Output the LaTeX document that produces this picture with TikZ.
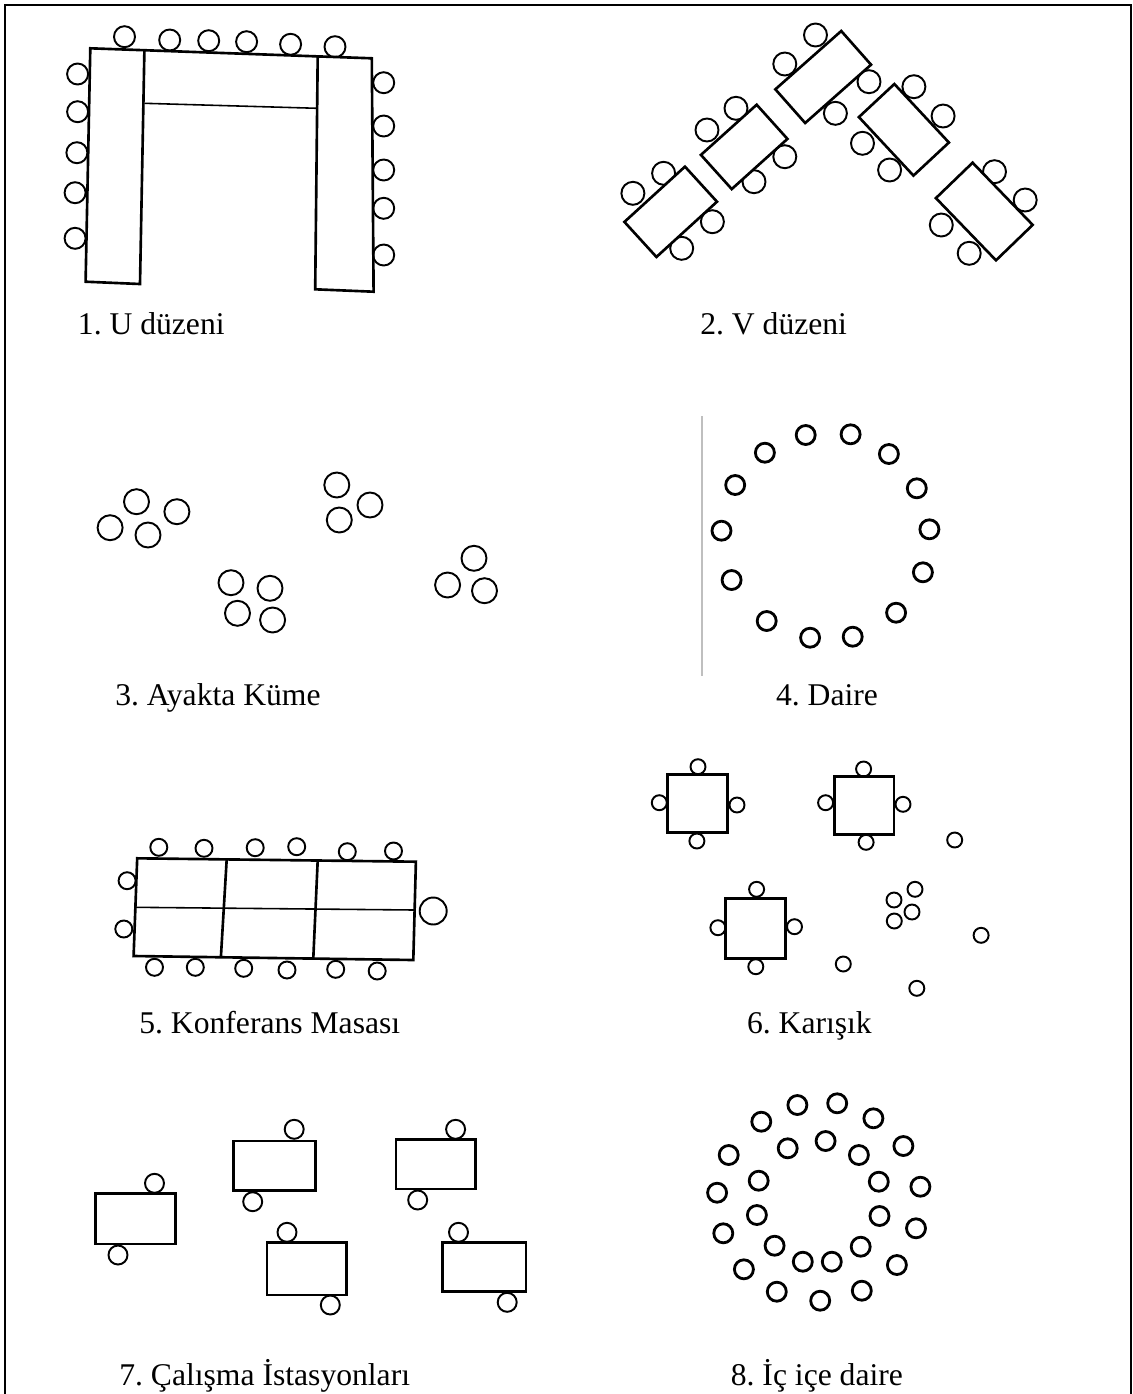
\documentclass[tikz,border=0pt]{standalone}
\usepackage{fontspec}
\setmainfont{Liberation Serif}
\frenchspacing

\begin{document}
\begin{tikzpicture}[x=0.02cm, y=-0.02cm,
    frame/.style={line width=1.5pt},
    desk/.style={line width=1.5pt, line join=miter},
    vdesk/.style={draw, fill=white, line width=1.5pt, inner sep=0pt},
    thinline/.style={line width=0.9pt},
    chair/.style={line width=1.1pt},
    boldchair/.style={line width=1.6pt},
    caption/.style={anchor=base west, inner sep=0pt, font=\fontsize{18}{21}\selectfont}]
  \useasboundingbox (0,0) rectangle (1133,1394);
  \draw[frame] (5,1394) -- (5,5) -- (1131,5) -- (1131,1394);

  % 1. U
  \foreach \x/\y in {124.5/36.7, 169.7/40, 208.7/40.7, 246.6/41.7, 290.6/44.3, 335/46.7,
                     77.6/74, 77.6/111.7, 76.9/152.7, 75.1/192.7, 75.1/238.3,
                     383.7/82.7, 383.7/126, 383.7/170, 383.7/208.3, 383.7/255}
    \draw[chair] (\x,\y) circle (10.5);
  \fill[white] (90.3,48.3) -- (371.8,58.3) -- (373.6,291.7) -- (315.2,289.3) -- (317.7,108.3)
    -- (144.4,103.3) -- (140,284) -- (85.6,281.7) -- cycle;
  \draw[desk] (144.4,50.2) -- (140,284) -- (85.6,281.7) -- (90.3,48.3) -- (371.8,58.3)
    -- (373.6,291.7) -- (315.2,289.3) -- (317.7,56.4);
  \draw[thinline] (144.4,103.3) -- (317.7,108.3);
  \node[caption] (cap1) at (77.6,334) {1. U düzeni};

  % 2. V
  \foreach \x/\y in {663.6/173.3, 632.9/193.3, 712.4/221.7, 681.7/248.3,
                     736/108.3, 707/130, 784.8/156.7, 754/181.7,
                     815.5/35, 784.8/64, 869/81.7, 835.4/113.3,
                     913.9/86.7, 943.1/116, 862.5/143.3, 889.6/170,
                     994.5/171.7, 1025.2/200, 941.3/225, 969.2/253.3}
    \draw[chair] (\x,\y) circle (11.5);
  \node[vdesk, minimum width=1.64cm, minimum height=0.95cm, rotate=42.4] (v1) at (670.7,211.8) {};
  \node[vdesk, minimum width=1.50cm, minimum height=0.92cm, rotate=42] (v2) at (744.2,146.9) {};
  \node[vdesk, minimum width=1.76cm, minimum height=0.90cm, rotate=41.5] (v3) at (823.2,77) {};
  \node[vdesk, minimum width=1.60cm, minimum height=0.97cm, rotate=-47] (v4) at (903.9,129.8) {};
  \node[vdesk, minimum width=1.73cm, minimum height=1.02cm, rotate=-46] (v5) at (984.3,211.5) {};
  \node[caption] (cap2) at (700,334) {2. V düzeni};

  % 3. Ayakta
  \foreach \x/\y in {136.5/501.7, 176.9/511.7, 110.1/527.7, 148/535,
                     336.8/485, 370/505, 339.3/520,
                     231/582.7, 270/588.3, 237.5/613.3, 272.6/620,
                     474/558.3, 447.6/585, 484.5/590.7}
    \draw[chair] (\x,\y) circle (12.5);
  \node[caption] (cap3) at (115,705) {3. Ayakta Küme};

  % 4. Daire
  \draw[black!25, line width=0.6pt] (702,416) -- (702,676);
  \foreach \x/\y in {805.7/435, 850.6/434.3, 764.9/452.7, 888.9/454, 735.2/485, 916.8/488.3,
                     721.5/530.7, 929.4/529.3, 731.6/580, 922.9/572.3, 766.7/621, 896.1/612.7,
                     810.1/637.7, 852.7/636.7}
    \draw[boldchair] (\x,\y) circle (9.5);
  \node[caption] (cap4) at (775.7,705) {4. Daire};

  % 5. Konferans
  \foreach \x/\y in {158.8/847.3, 204/848.3, 255.2/847.7, 296.7/846.7, 347.3/851.7, 393.5/851,
                     127.1/880.7, 123.8/929,
                     154.5/967.3, 195.3/967.3, 243.7/968.3, 287/970, 335.7/969.3, 377.2/971}
    \draw[chair] (\x,\y) circle (8.5);
  \draw[chair] (433.2,911) circle (13.5);
  \draw[desk, fill=white] (137.2,858.3) -- (415.9,861.7) -- (413.3,960) -- (133.6,956) -- cycle;
  \draw[desk] (226.7,859.4) -- (220.9,957.1) (317.7,860.5) -- (313.3,958.3);
  \draw[thinline] (135.4,907.3) -- (414.4,910);
  \node[caption] (cap5) at (139,1033) {5. Konferans Masası};

  % 6. Karisik
  \foreach \x/\y in {698/766.7, 696.9/841, 659.3/802.7, 737/805,
                     863.6/769, 866.1/842.3, 825.6/802.7, 903/804.3,
                     756.6/889.3, 755.8/966.7, 717.9/927.7, 794.5/926.7,
                     954.7/840, 915/889.3, 894/900, 912/912, 894.3/921,
                     981.1/935.3, 843.3/964, 916.8/988.3}
    \draw[chair] (\x,\y) circle (7.5);
  \draw[desk, fill=white] (667.2,774.3) rectangle (727.6,832.7);
  \draw[desk, fill=white] (834.3,776.7) rectangle (894,834.3);
  \draw[desk, fill=white] (725.8,898.3) rectangle (785.5,958.3);
  \node[caption] (cap6) at (746.7,1033) {6. Karışık};

  % 7. Istasyon
  \foreach \x/\y in {154.5/1183.3, 118/1255, 294.2/1129.3, 252.7/1201.7,
                     455.6/1129.3, 417.7/1200, 287/1232.3, 330.3/1305,
                     458.5/1232.3, 507.2/1302.3}
    \draw[chair] (\x,\y) circle (9.5);
  \draw[desk, fill=white] (95.7,1193.3) rectangle (175.8,1244);
  \draw[desk, fill=white] (233.6,1141) rectangle (315.2,1190.7);
  \draw[desk, fill=white] (396,1139.3) rectangle (475.4,1189);
  \draw[desk, fill=white] (267.1,1242.7) rectangle (346.6,1295);
  \draw[desk, fill=white] (442.2,1242.7) rectangle (526,1291.7);
  \node[caption] (cap7) at (119,1385) {7. Çalışma İstasyonları};

  % 8. Ic ice
  \foreach \x/\y in {797.4/1105, 837.2/1103.3, 761.3/1121.7, 873.4/1118.3, 728.7/1155, 903.4/1146,
                     717.1/1192.7, 920.4/1186.7, 723.3/1233.3, 916/1228.3, 743.9/1269.3, 896.9/1265,
                     776.8/1291.7, 820.2/1300.7, 861.8/1290.7,
                     787.7/1148.3, 825.6/1141, 858.9/1155, 758.7/1180.7, 878.8/1181.7,
                     756.9/1215, 879.5/1216, 774.6/1245.7, 860.7/1246.7, 802.8/1261.7, 831.8/1261.7}
    \draw[boldchair] (\x,\y) circle (9.5);
  \node[caption] (cap8) at (730.5,1385) {8. İç içe daire};
\end{tikzpicture}
\end{document}
